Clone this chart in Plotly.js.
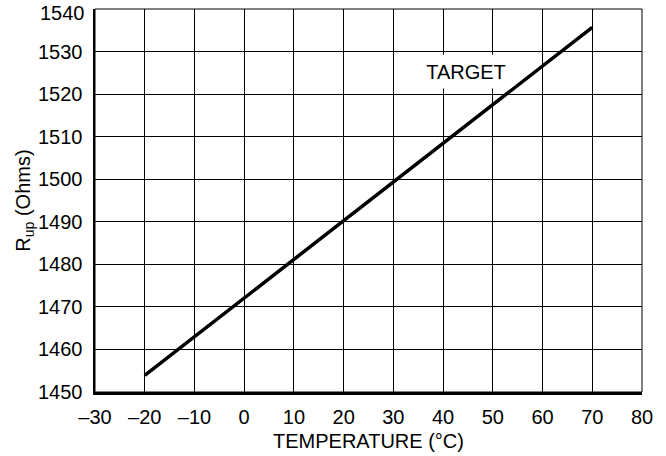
<!DOCTYPE html>
<html>
<head>
<meta charset="utf-8">
<script src="https://cdn.plot.ly/plotly-3.0.1.min.js"></script>
<style>
html,body{margin:0;padding:0;background:#fff;}
#chart{width:666px;height:456px;}
</style>
</head>
<body>
<div id="chart"></div>
<script>
// Data
var temperatureC = [-20, 70];
var resistanceOhms = [1453.9, 1535.7];
var xTicks = [-30, -20, -10, 0, 10, 20, 30, 40, 50, 60, 70, 80];
var yTicks = [1450, 1460, 1470, 1480, 1490, 1500, 1510, 1520, 1530, 1540];
var labelText = "TARGET";
var labelX = 44.6;
var labelY = 1525.3;

var font = {family: "Liberation Sans, Arial, Helvetica, sans-serif", size: 20, color: "#000"};

var topTick = yTicks[yTicks.length - 1];

var trace = {
  x: temperatureC,
  y: resistanceOhms,
  type: "scatter",
  mode: "lines",
  line: {color: "#000", width: 3.5},
  hoverinfo: "skip",
  showlegend: false
};

var layout = {
  width: 666,
  height: 456,
  margin: {l: 95, r: 24, t: 9, b: 64, pad: 0},
  paper_bgcolor: "#fff",
  plot_bgcolor: "#fff",
  font: font,
  showlegend: false,
  xaxis: {
    range: [-30, 80],
    tickmode: "array",
    tickvals: xTicks,
    ticktext: xTicks.map(function(v){ return v < 0 ? "\u2013" + Math.abs(v) : String(v); }),
    showgrid: true,
    gridcolor: "#000",
    gridwidth: 1,
    zeroline: false,
    showline: true,
    linecolor: "#000",
    linewidth: 2.5,
    ticks: "outside",
    ticklen: 5,
    tickcolor: "rgba(0,0,0,0)",
    ticklabeloverflow: "allow",
    tickfont: font,
    title: {text: "TEMPERATURE (\u00B0C)", font: font, standoff: 8},
    fixedrange: true
  },
  yaxis: {
    range: [1450, 1540],
    tickmode: "array",
    tickvals: yTicks,
    // the top label is drawn as an annotation, nudged down to stay inside the picture
    ticktext: yTicks.map(function(v){ return v === topTick ? "" : String(v); }),
    showgrid: true,
    gridcolor: "#000",
    gridwidth: 1,
    zeroline: false,
    showline: true,
    linecolor: "#000",
    linewidth: 2.5,
    ticks: "outside",
    ticklen: 6,
    tickcolor: "rgba(0,0,0,0)",
    ticklabeloverflow: "allow",
    tickfont: font,
    title: {text: "R<sub>up</sub> (Ohms)", font: font, standoff: 2},
    fixedrange: true
  },
  shapes: [{
    type: "rect",
    xref: "x domain", yref: "y domain",
    x0: 0, x1: 1, y0: 0, y1: 1,
    line: {color: "#000", width: 1},
    fillcolor: "rgba(0,0,0,0)",
    layer: "above"
  }],
  annotations: [{
    x: labelX, y: labelY, xref: "x", yref: "y",
    text: labelText,
    showarrow: false,
    font: font,
    bgcolor: "#fff",
    width: 88,
    height: 33,
    borderpad: 0,
    xanchor: "center",
    yanchor: "middle"
  }, {
    x: 0, xref: "paper", y: topTick, yref: "y",
    text: String(topTick),
    showarrow: false,
    font: font,
    xanchor: "right",
    yanchor: "middle",
    xshift: -8,
    yshift: -4
  }]
};

Plotly.newPlot("chart", [trace], layout, {displayModeBar: false, staticPlot: true});
</script>
</body>
</html>
